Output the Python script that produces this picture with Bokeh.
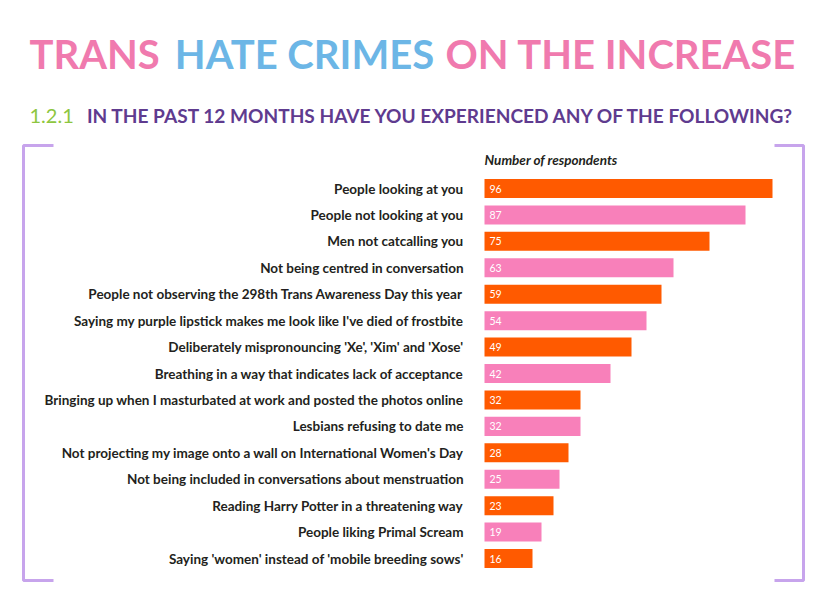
from bokeh.plotting import figure
from bokeh.models import Range1d, ColumnDataSource
from bokeh.core.properties import value
from bokeh.embed import file_html
from bokeh.resources import INLINE

# ---- data ----
categories = [
    "People looking at you",
    "People not looking at you",
    "Men not catcalling you",
    "Not being centred in conversation",
    "People not observing the 298th Trans Awareness Day this year",
    "Saying my purple lipstick makes me look like I've died of frostbite",
    "Deliberately mispronouncing 'Xe', 'Xim' and 'Xose'",
    "Breathing in a way that indicates lack of acceptance",
    "Bringing up when I masturbated at work and posted the photos online",
    "Lesbians refusing to date me",
    "Not projecting my image onto a wall on International Women's Day",
    "Not being included in conversations about menstruation",
    "Reading Harry Potter in a threatening way",
    "People liking Primal Scream",
    "Saying 'women' instead of 'mobile breeding sows'",
]
respondents = [96, 87, 75, 63, 59, 54, 49, 42, 32, 32, 28, 25, 23, 19, 16]
bar_palette = ["#ff5a00", "#f880ba"]

title_parts = ["TRANS", "HATE CRIMES", "ON THE INCREASE"]
title_colors = ["#f07aae", "#6cb6e6", "#f07aae"]
subtitle_number = "1.2.1"
subtitle_text = "IN THE PAST 12 MONTHS HAVE YOU EXPERIENCED ANY OF THE FOLLOWING?"
axis_title = "Number of respondents"

# ---- layout helpers (pixel positions -> data coordinates) ----
W, H = 811, 584
PX_PER_UNIT = 3.0
ZERO_PX = 484
ROW0_PX = 188
ROW_PX = 26.43

def dx(px):
    return (px - ZERO_PX) / PX_PER_UNIT

def dy(py):
    return (py - ROW0_PX) / ROW_PX

FONT = "Lato"
DARK = "#231f20"

p = figure(width=W, height=H,
           x_range=Range1d(dx(0), dx(W)), y_range=Range1d(dy(H), dy(0)),
           output_backend="svg", toolbar_location=None, min_border=0,
           x_axis_location=None, y_axis_location=None)
p.xgrid.visible = False
p.ygrid.visible = False
p.outline_line_color = None
p.background_fill_color = "white"
p.border_fill_color = "white"

rows = list(range(len(categories)))
src = ColumnDataSource(dict(
    y=rows,
    value=respondents,
    cat=categories,
    vlabel=[str(v) for v in respondents],
    color=[bar_palette[i % 2] for i in rows],
))

p.hbar(y="y", left=0, right="value", height=0.72, fill_color="color",
       line_color=None, source=src)

p.text(x=dx(463), y="y", text="cat", source=src, text_align="right",
       text_baseline="middle", text_font=value(FONT), text_font_size="13.5px",
       text_font_style="bold", text_color=DARK)

p.text(x=dx(489), y="y", text="vlabel", source=src, text_align="left",
       text_baseline="middle", text_font=value(FONT), text_font_size="10.5px",
       text_color="white")

# axis caption
p.text(x=[0], y=[dy(159)], text=[axis_title], text_align="left",
       text_baseline="middle", text_font=value(FONT), text_font_size="13.5px",
       text_font_style="bold italic", text_color=DARK)

# title
title_x = [29, 304, 796]
title_align = ["left", "center", "right"]
for t, c, xx, al in zip(title_parts, title_colors, title_x, title_align):
    p.text(x=[dx(xx)], y=[dy(53)], text=[t], text_align=al,
           text_baseline="middle", text_font=value(FONT),
           text_font_size="40px", text_font_style="bold", text_color=c)

# subtitle
p.text(x=[dx(29)], y=[dy(115)], text=[subtitle_number], text_align="left",
       text_baseline="middle", text_font=value(FONT),
       text_font_size="20px", text_color="#8dc63f")
p.text(x=[dx(796)], y=[dy(115)], text=[subtitle_text], text_align="right",
       text_baseline="middle", text_font=value(FONT),
       text_font_size="19.1px", text_font_style="bold", text_color="#5f3b8f")

# brackets
p.multi_line(xs=[[dx(53), dx(23), dx(23), dx(53)],
                 [dx(774), dx(803), dx(803), dx(774)]],
             ys=[[dy(145), dy(145), dy(580), dy(580)],
                 [dy(145), dy(145), dy(580), dy(580)]],
             line_color="#c7a4ec", line_width=3)

open("out.html", "w").write(file_html(p, INLINE))
